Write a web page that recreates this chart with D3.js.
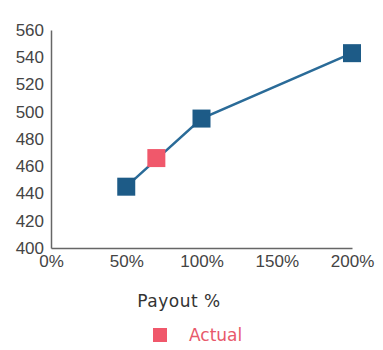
<!DOCTYPE html>
<html>
<head>
<meta charset="utf-8">
<script src="https://cdn.jsdelivr.net/npm/d3@7"></script>
<style>
  body { margin: 0; background: #fff; }
  svg { display: block; font-family: "DejaVu Sans", sans-serif; }
</style>
</head>
<body>
<svg></svg>
<script>
const payoutPct = [50, 100, 200]
const payoutValues = [445, 495, 543]
const actualPct = [70]
const actualValues = [466]
const yTicks = [400, 420, 440, 460, 480, 500, 520, 540, 560]
const xTicks = [0, 50, 100, 150, 200]

const width = 383, height = 350
const margin = {top: 30, right: 31, bottom: 102, left: 51}

const svg = d3.select("svg")
  .attr("width", width)
  .attr("height", height)

const x = d3.scaleLinear().domain([0, 200]).range([margin.left, width - margin.right])
const y = d3.scaleLinear().domain([400, 560]).range([height - margin.bottom, margin.top])

const axisColor = "#666"
const textColor = "#444"

// y axis
const yAxis = svg.append("g")
  .attr("transform", `translate(${margin.left},0)`)
  .call(d3.axisLeft(y).tickValues(yTicks).tickSize(0).tickPadding(7))
yAxis.select(".domain").attr("stroke", axisColor).attr("stroke-width", 1.5)
yAxis.selectAll("text").attr("fill", textColor).attr("font-size", 17)

// x axis
const xAxis = svg.append("g")
  .attr("transform", `translate(0,${height - margin.bottom})`)
  .call(d3.axisBottom(x).tickValues(xTicks).tickFormat(d => d + "%").tickSize(0).tickPadding(7))
xAxis.select(".domain").attr("stroke", axisColor).attr("stroke-width", 1.5)
xAxis.selectAll("text").attr("fill", textColor).attr("font-size", 17)

// payout line
const pts = payoutPct.map((p, i) => [p, payoutValues[i]])
svg.append("path")
  .datum(pts)
  .attr("fill", "none")
  .attr("stroke", "#2a6b98")
  .attr("stroke-width", 2.5)
  .attr("d", d3.line().x(d => x(d[0])).y(d => y(d[1])))

const sq = 18
svg.append("g").selectAll("rect")
  .data(pts)
  .enter().append("rect")
  .attr("x", d => x(d[0]) - sq / 2)
  .attr("y", d => y(d[1]) - sq / 2)
  .attr("width", sq)
  .attr("height", sq)
  .attr("fill", "#1d5b87")

// actual point
svg.append("g").selectAll("rect")
  .data(actualPct.map((p, i) => [p, actualValues[i]]))
  .enter().append("rect")
  .attr("x", d => x(d[0]) - sq / 2)
  .attr("y", d => y(d[1]) - sq / 2)
  .attr("width", sq)
  .attr("height", sq)
  .attr("fill", "#f0586b")

// axis title
svg.append("text")
  .attr("x", 179)
  .attr("y", 307)
  .attr("text-anchor", "middle")
  .attr("fill", "#333")
  .attr("font-size", 17)
  .attr("letter-spacing", 0.5)
  .text("Payout %")

// legend
const legend = svg.append("g").attr("transform", "translate(153,328)")
legend.append("rect").attr("width", 14).attr("height", 14).attr("fill", "#f0586b")
legend.append("text")
  .attr("x", 36)
  .attr("y", 13)
  .attr("fill", "#e8596b")
  .attr("font-size", 17)
  .text("Actual")
</script>
</body>
</html>
